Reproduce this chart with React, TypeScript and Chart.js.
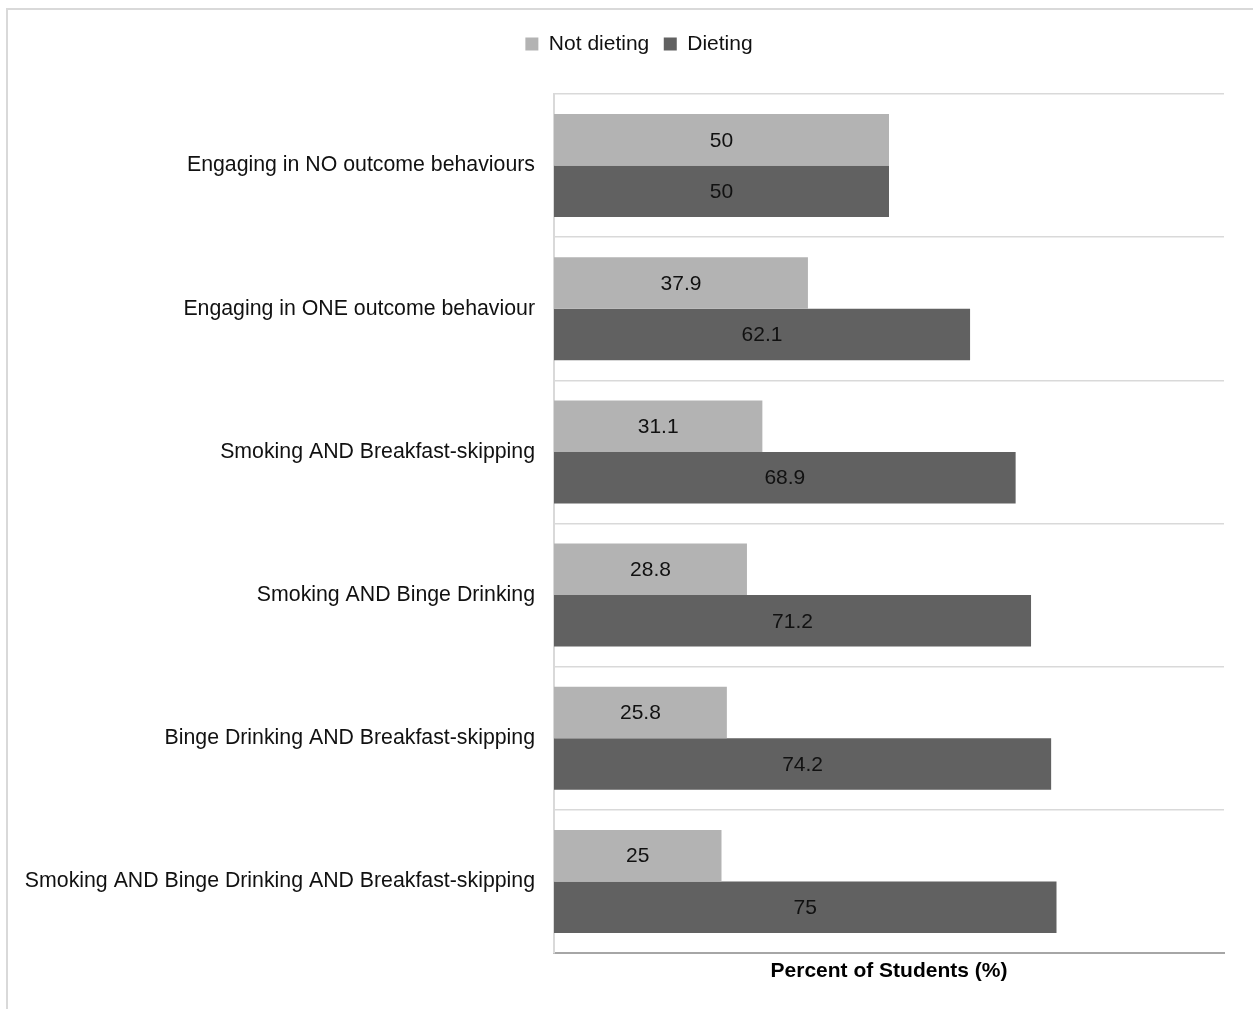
import React, { useEffect, useRef } from "react";
import { Chart, registerables } from "chart.js";

Chart.register(...registerables);

const categories: string[] = [
  "Engaging in NO outcome behaviours",
  "Engaging in ONE outcome behaviour",
  "Smoking AND Breakfast-skipping",
  "Smoking AND Binge Drinking",
  "Binge Drinking AND Breakfast-skipping",
  "Smoking AND Binge Drinking AND Breakfast-skipping",
];
const notDieting: number[] = [50, 37.9, 31.1, 28.8, 25.8, 25];
const dieting: number[] = [50, 62.1, 68.9, 71.2, 74.2, 75];
const seriesNames: string[] = ["Not dieting", "Dieting"];
const axisTitle = "Percent of Students (%)";

const FONT = "'Liberation Sans', Arial, Helvetica, sans-serif";

const legendSpacer = {
  id: "legendSpacer",
  beforeLayout(chart: any) {
    const lg = chart.legend;
    if (lg && !lg.__patched) {
      const orig = lg.fit;
      lg.fit = function () {
        orig.call(this);
        this.height = 75;
      };
      lg.__patched = true;
    }
  },
  afterLayout(chart: any) {
    const lg = chart.legend;
    if (lg) lg.left = 46;
  },
};

const barLabels = {
  id: "barLabels",
  afterDatasetsDraw(chart: any) {
    const ctx = chart.ctx;
    ctx.save();
    ctx.font = `21px ${FONT}`;
    ctx.fillStyle = "#111";
    ctx.textAlign = "center";
    ctx.textBaseline = "middle";
    chart.data.datasets.forEach((ds: any, di: number) => {
      const meta = chart.getDatasetMeta(di);
      meta.data.forEach((el: any, i: number) => {
        const p = el.getProps(["x", "y", "base"], true);
        ctx.fillText(String(ds.data[i]), (p.x + p.base) / 2, p.y + 1);
      });
    });
    ctx.restore();
  },
};

export default function App() {
  const ref = useRef<HTMLCanvasElement>(null);
  useEffect(() => {
    if (!ref.current) return;
    Chart.defaults.font.family = FONT;
    const chart = new Chart(ref.current, {
      type: "bar",
      data: {
        labels: categories,
        datasets: [
          {
            label: seriesNames[0],
            data: notDieting,
            backgroundColor: "#b3b3b3",
            categoryPercentage: 0.72,
            barPercentage: 1,
          },
          {
            label: seriesNames[1],
            data: dieting,
            backgroundColor: "#616161",
            categoryPercentage: 0.72,
            barPercentage: 1,
          },
        ],
      },
      options: {
        indexAxis: "y",
        responsive: false,
        animation: false,
        devicePixelRatio: 1,
        layout: { padding: { left: 0, right: 29, top: 9, bottom: 22.8 } },
        plugins: {
          legend: {
            position: "top",
            labels: {
              boxWidth: 13,
              boxHeight: 13,
              padding: 14.5,
              color: "#111",
              font: { size: 21, family: FONT },
            },
          },
          tooltip: { enabled: false },
        },
        scales: {
          x: {
            min: 0,
            max: 100,
            ticks: { display: false },
            grid: { display: false, drawTicks: false },
            border: { display: true, color: "#a6a6a6", width: 2 },
            title: {
              display: true,
              text: axisTitle,
              color: "#000",
              font: { size: 21, weight: "bold", family: FONT },
              padding: { top: 6, bottom: 2 },
            },
          },
          y: {
            afterFit: (scale: any) => {
              scale.width = 546;
            },
            ticks: {
              color: "#111",
              padding: 19,
              font: { size: 21.3, family: FONT },
            },
            grid: {
              display: true,
              offset: true,
              drawTicks: false,
              color: "#d9d9d9",
              lineWidth: 1.5,
            },
            border: { display: true, color: "#d9d9d9", width: 2 },
          },
        },
      },
      plugins: [legendSpacer, barLabels],
    });
    return () => chart.destroy();
  }, []);

  return (
    <div
      style={{
        position: "fixed",
        left: 6,
        top: 8,
        borderTop: "2px solid #d9d9d9",
        borderLeft: "2px solid #d9d9d9",
        width: 1245,
        height: 999,
        background: "#fff",
      }}
    >
      <canvas ref={ref} width={1245} height={999} style={{ display: "block" }} />
    </div>
  );
}
